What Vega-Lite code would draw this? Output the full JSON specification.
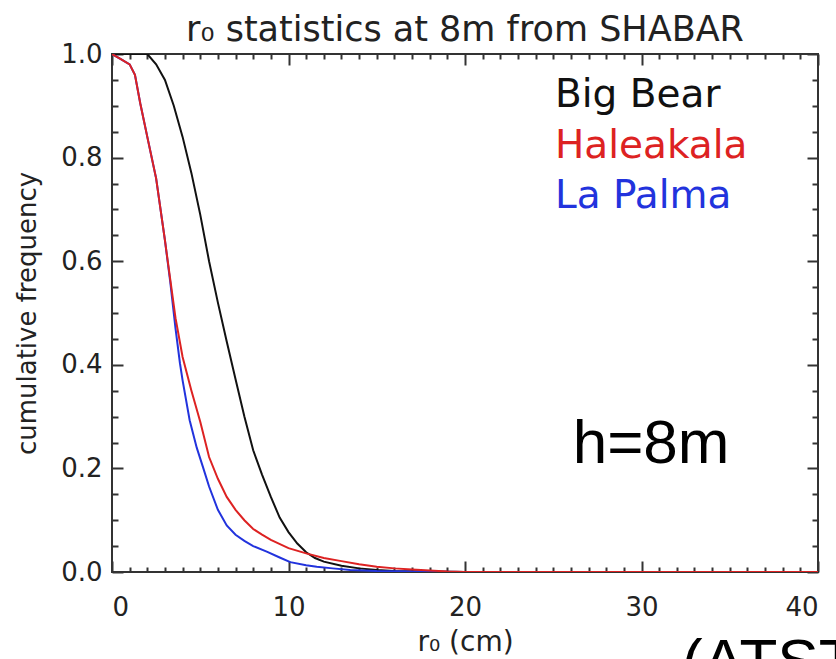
{
  "$schema": "https://vega.github.io/schema/vega-lite/v6.json",
  "width": 706,
  "height": 518,
  "autosize": {"type": "none"},
  "padding": {"left": 112, "top": 54, "right": 18, "bottom": 87},
  "background": "white",
  "title": {"text": "r₀ statistics at 8m from SHABAR", "font": "DejaVu Sans", "fontSize": 35, "fontWeight": "normal", "color": "#222", "offset": 8, "dy": 15},
  "config": {"view": {"stroke": "#333", "strokeWidth": 2}},
  "datasets": {
    "curves": [
      {"site": "Big Bear", "r0": 0, "cf": 1.0},
      {"site": "Big Bear", "r0": 1.0, "cf": 1.0},
      {"site": "Big Bear", "r0": 2.0, "cf": 1.0},
      {"site": "Big Bear", "r0": 2.5, "cf": 0.98},
      {"site": "Big Bear", "r0": 3.0, "cf": 0.95},
      {"site": "Big Bear", "r0": 3.5, "cf": 0.9},
      {"site": "Big Bear", "r0": 4.0, "cf": 0.84},
      {"site": "Big Bear", "r0": 4.5, "cf": 0.77},
      {"site": "Big Bear", "r0": 5.0, "cf": 0.69},
      {"site": "Big Bear", "r0": 5.5, "cf": 0.6},
      {"site": "Big Bear", "r0": 6.0, "cf": 0.52},
      {"site": "Big Bear", "r0": 6.5, "cf": 0.445},
      {"site": "Big Bear", "r0": 7.0, "cf": 0.372},
      {"site": "Big Bear", "r0": 7.5, "cf": 0.3},
      {"site": "Big Bear", "r0": 8.0, "cf": 0.235},
      {"site": "Big Bear", "r0": 8.5, "cf": 0.188},
      {"site": "Big Bear", "r0": 9.0, "cf": 0.145},
      {"site": "Big Bear", "r0": 9.5, "cf": 0.105},
      {"site": "Big Bear", "r0": 10.0, "cf": 0.077},
      {"site": "Big Bear", "r0": 10.5, "cf": 0.055},
      {"site": "Big Bear", "r0": 11.0, "cf": 0.038},
      {"site": "Big Bear", "r0": 11.5, "cf": 0.027},
      {"site": "Big Bear", "r0": 12.0, "cf": 0.02},
      {"site": "Big Bear", "r0": 13.0, "cf": 0.012},
      {"site": "Big Bear", "r0": 14.0, "cf": 0.007},
      {"site": "Big Bear", "r0": 15.0, "cf": 0.004},
      {"site": "Big Bear", "r0": 16.0, "cf": 0.002},
      {"site": "Big Bear", "r0": 18.0, "cf": 0.001},
      {"site": "Big Bear", "r0": 20.0, "cf": 0.0},
      {"site": "La Palma", "r0": 0, "cf": 1.0},
      {"site": "La Palma", "r0": 0.5, "cf": 0.99},
      {"site": "La Palma", "r0": 1.0, "cf": 0.98},
      {"site": "La Palma", "r0": 1.3, "cf": 0.96},
      {"site": "La Palma", "r0": 1.6, "cf": 0.905},
      {"site": "La Palma", "r0": 2.0, "cf": 0.84},
      {"site": "La Palma", "r0": 2.5, "cf": 0.76},
      {"site": "La Palma", "r0": 3.0, "cf": 0.64},
      {"site": "La Palma", "r0": 3.3, "cf": 0.56},
      {"site": "La Palma", "r0": 3.6, "cf": 0.47},
      {"site": "La Palma", "r0": 3.85, "cf": 0.403},
      {"site": "La Palma", "r0": 4.0, "cf": 0.37},
      {"site": "La Palma", "r0": 4.4, "cf": 0.293},
      {"site": "La Palma", "r0": 4.8, "cf": 0.24},
      {"site": "La Palma", "r0": 5.15, "cf": 0.203},
      {"site": "La Palma", "r0": 5.5, "cf": 0.165},
      {"site": "La Palma", "r0": 6.0, "cf": 0.12},
      {"site": "La Palma", "r0": 6.5, "cf": 0.09},
      {"site": "La Palma", "r0": 7.0, "cf": 0.072},
      {"site": "La Palma", "r0": 7.5, "cf": 0.06},
      {"site": "La Palma", "r0": 8.0, "cf": 0.05},
      {"site": "La Palma", "r0": 8.8, "cf": 0.039},
      {"site": "La Palma", "r0": 9.5, "cf": 0.028},
      {"site": "La Palma", "r0": 10.1, "cf": 0.019},
      {"site": "La Palma", "r0": 11.0, "cf": 0.013},
      {"site": "La Palma", "r0": 11.6, "cf": 0.01},
      {"site": "La Palma", "r0": 12.5, "cf": 0.007},
      {"site": "La Palma", "r0": 13.5, "cf": 0.004},
      {"site": "La Palma", "r0": 15.0, "cf": 0.002},
      {"site": "La Palma", "r0": 17.0, "cf": 0.001},
      {"site": "La Palma", "r0": 20.0, "cf": 0.0},
      {"site": "Haleakala", "r0": 0, "cf": 1.0},
      {"site": "Haleakala", "r0": 0.5, "cf": 0.99},
      {"site": "Haleakala", "r0": 1.0, "cf": 0.98},
      {"site": "Haleakala", "r0": 1.3, "cf": 0.96},
      {"site": "Haleakala", "r0": 1.6, "cf": 0.905},
      {"site": "Haleakala", "r0": 2.0, "cf": 0.84},
      {"site": "Haleakala", "r0": 2.5, "cf": 0.76},
      {"site": "Haleakala", "r0": 3.0, "cf": 0.64},
      {"site": "Haleakala", "r0": 3.3, "cf": 0.565},
      {"site": "Haleakala", "r0": 3.6, "cf": 0.49},
      {"site": "Haleakala", "r0": 4.0, "cf": 0.415},
      {"site": "Haleakala", "r0": 4.5, "cf": 0.35},
      {"site": "Haleakala", "r0": 5.0, "cf": 0.29},
      {"site": "Haleakala", "r0": 5.5, "cf": 0.222},
      {"site": "Haleakala", "r0": 6.0, "cf": 0.18},
      {"site": "Haleakala", "r0": 6.5, "cf": 0.145},
      {"site": "Haleakala", "r0": 7.0, "cf": 0.12},
      {"site": "Haleakala", "r0": 7.5, "cf": 0.1},
      {"site": "Haleakala", "r0": 8.0, "cf": 0.083},
      {"site": "Haleakala", "r0": 8.5, "cf": 0.072},
      {"site": "Haleakala", "r0": 9.0, "cf": 0.062},
      {"site": "Haleakala", "r0": 10.0, "cf": 0.046},
      {"site": "Haleakala", "r0": 11.0, "cf": 0.036},
      {"site": "Haleakala", "r0": 12.0, "cf": 0.027},
      {"site": "Haleakala", "r0": 13.0, "cf": 0.021},
      {"site": "Haleakala", "r0": 14.0, "cf": 0.015},
      {"site": "Haleakala", "r0": 15.0, "cf": 0.01},
      {"site": "Haleakala", "r0": 16.0, "cf": 0.007},
      {"site": "Haleakala", "r0": 17.0, "cf": 0.005},
      {"site": "Haleakala", "r0": 18.0, "cf": 0.003},
      {"site": "Haleakala", "r0": 19.0, "cf": 0.001},
      {"site": "Haleakala", "r0": 20.0, "cf": 0.0},
      {"site": "Haleakala", "r0": 40.0, "cf": 0.0}
    ],
    "legend": [
      {"label": "Big Bear", "x": 25.1, "y": 0.898},
      {"label": "Haleakala", "x": 25.1, "y": 0.799},
      {"label": "La Palma", "x": 25.1, "y": 0.703}
    ],
    "notes": [
      {"label": "h=8m", "x": 26.1, "y": 0.21}
    ],
    "notes2": [
      {"label": "(ATST", "x": 32.3, "y": -0.212}
    ]
  },
  "resolve": {"axis": {"x": "independent", "y": "independent"}},
  "layer": [
    {
      "data": {"name": "curves"},
      "transform": [{"filter": "datum.site === 'Big Bear'"}],
      "mark": {"type": "line", "color": "#111", "strokeWidth": 2, "clip": true},
      "encoding": {
        "x": {"field": "r0", "type": "quantitative", "scale": {"domain": [0, 40], "nice": false},
          "axis": {"orient": "bottom", "values": [0, 10, 20, 30, 40], "format": "d", "ticks": false, "grid": false,
            "domain": false,
            "labelFont": "DejaVu Sans", "labelFontSize": 26, "labelColor": "#222", "labelPadding": 22,
            "title": "r₀ (cm)", "titleFont": "DejaVu Sans", "titleFontSize": 28, "titleFontWeight": "normal", "titleColor": "#222", "titlePadding": 8}},
        "y": {"field": "cf", "type": "quantitative", "scale": {"domain": [0, 1], "nice": false},
          "axis": {"orient": "left", "values": [0, 0.2, 0.4, 0.6, 0.8, 1.0], "format": ".1f", "ticks": false, "grid": false,
            "domain": false,
            "labelFont": "DejaVu Sans", "labelFontSize": 26, "labelColor": "#222", "labelPadding": 10,
            "title": "cumulative frequency", "titleFont": "DejaVu Sans", "titleFontSize": 26, "titleFontWeight": "normal", "titleColor": "#222", "titlePadding": 20}}
      }
    },
    {
      "data": {"name": "curves"},
      "transform": [{"filter": "datum.site === 'La Palma'"}],
      "mark": {"type": "line", "color": "#2233dd", "strokeWidth": 2, "clip": true},
      "encoding": {
        "x": {"field": "r0", "type": "quantitative",
          "axis": {"orient": "bottom", "values": [0, 10, 20, 30, 40], "tickSize": 11, "offset": -11, "tickWidth": 2, "tickColor": "#333", "labels": false, "domain": false, "grid": false, "title": null}},
        "y": {"field": "cf", "type": "quantitative",
          "axis": {"orient": "left", "values": [0, 0.2, 0.4, 0.6, 0.8, 1.0], "tickSize": 11, "offset": -11, "tickWidth": 2, "tickColor": "#333", "labels": false, "domain": false, "grid": false, "title": null}}
      }
    },
    {
      "data": {"name": "curves"},
      "transform": [{"filter": "datum.site === 'Haleakala'"}],
      "mark": {"type": "line", "color": "#dd2222", "strokeWidth": 2, "clip": true},
      "encoding": {
        "x": {"field": "r0", "type": "quantitative",
          "axis": {"orient": "bottom", "values": [1,2,3,4,5,6,7,8,9,11,12,13,14,15,16,17,18,19,21,22,23,24,25,26,27,28,29,31,32,33,34,35,36,37,38,39], "tickSize": 5, "offset": -5, "tickWidth": 2, "tickColor": "#333", "labels": false, "domain": false, "grid": false, "title": null}},
        "y": {"field": "cf", "type": "quantitative",
          "axis": {"orient": "left", "values": [0.05, 0.1, 0.15, 0.25, 0.3, 0.35, 0.45, 0.5, 0.55, 0.65, 0.7, 0.75, 0.85, 0.9, 0.95], "tickSize": 6, "offset": -6, "tickWidth": 2, "tickColor": "#333", "labels": false, "domain": false, "grid": false, "title": null}}
      }
    },
    {
      "data": {"name": "legend"},
      "mark": {"type": "text", "align": "left", "baseline": "alphabetic", "font": "DejaVu Sans", "fontSize": 39},
      "encoding": {
        "x": {"field": "x", "type": "quantitative",
          "axis": {"orient": "top", "values": [0, 10, 20, 30, 40], "tickSize": 11, "offset": -11, "tickWidth": 2, "tickColor": "#333", "labels": false, "domain": false, "grid": false, "title": null}},
        "y": {"field": "y", "type": "quantitative",
          "axis": {"orient": "right", "values": [0, 0.2, 0.4, 0.6, 0.8, 1.0], "tickSize": 11, "offset": -11, "tickWidth": 2, "tickColor": "#333", "labels": false, "domain": false, "grid": false, "title": null}},
        "text": {"field": "label"},
        "color": {"field": "label", "type": "nominal", "scale": {"domain": ["Big Bear", "Haleakala", "La Palma"], "range": ["#111111", "#dd2222", "#2233dd"]}, "legend": null}
      }
    },
    {
      "data": {"name": "notes"},
      "mark": {"type": "text", "align": "left", "baseline": "alphabetic", "font": "Liberation Sans", "fontSize": 62, "color": "#000"},
      "encoding": {
        "x": {"field": "x", "type": "quantitative",
          "axis": {"orient": "top", "values": [1,2,3,4,5,6,7,8,9,11,12,13,14,15,16,17,18,19,21,22,23,24,25,26,27,28,29,31,32,33,34,35,36,37,38,39], "tickSize": 5, "offset": -5, "tickWidth": 2, "tickColor": "#333", "labels": false, "domain": false, "grid": false, "title": null}},
        "y": {"field": "y", "type": "quantitative",
          "axis": {"orient": "right", "values": [0.05, 0.1, 0.15, 0.25, 0.3, 0.35, 0.45, 0.5, 0.55, 0.65, 0.7, 0.75, 0.85, 0.9, 0.95], "tickSize": 6, "offset": -6, "tickWidth": 2, "tickColor": "#333", "labels": false, "domain": false, "grid": false, "title": null}},
        "text": {"field": "label"}
      }
    },
    {
      "data": {"name": "notes2"},
      "mark": {"type": "text", "align": "left", "baseline": "alphabetic", "font": "Liberation Sans", "fontSize": 62, "color": "#000"},
      "encoding": {
        "x": {"field": "x", "type": "quantitative", "axis": null},
        "y": {"field": "y", "type": "quantitative", "axis": null},
        "text": {"field": "label"}
      }
    }
  ]
}
